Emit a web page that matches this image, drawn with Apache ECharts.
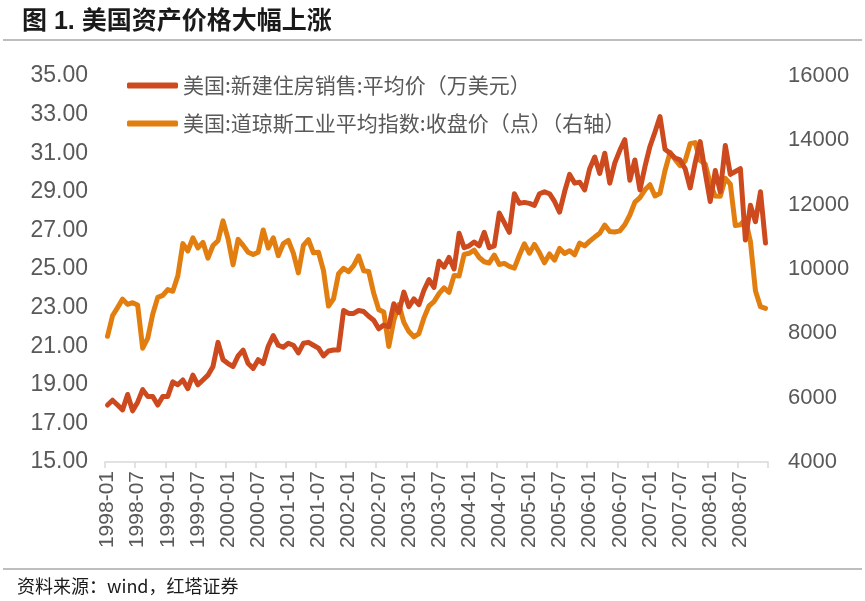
<!DOCTYPE html>
<html>
<head>
<meta charset="utf-8">
<script src="https://cdn.jsdelivr.net/npm/echarts@6/dist/echarts.min.js"></script>
<style>
html,body{margin:0;padding:0;background:#fff;}
#chart{width:865px;height:601px;}
</style>
</head>
<body>
<div id="chart"></div>
<script>
// categories: monthly 1998-01 .. 2008-12
const categories = [];
for (let y = 1998; y <= 2008; y++) {
  for (let m = 1; m <= 12; m++) categories.push(y + '-' + (m < 10 ? '0' + m : m));
}

const seriesNames = ['美国:新建住房销售:平均价（万美元）', '美国:道琼斯工业平均指数:收盘价（点）（右轴）'];

// 美国:新建住房销售:平均价 (万美元)
const homePrice = [
  17.95,18.2,17.95,17.7,18.5,17.65,18.1,18.75,18.4,18.4,17.95,18.4,
  18.4,19.15,19.0,19.25,18.8,19.5,19.0,19.25,19.5,19.95,21.2,20.3,
  20.1,19.95,20.5,20.8,20.1,19.85,20.3,20.1,21.0,21.55,21.05,20.95,
  21.15,21.05,20.65,21.15,21.2,21.05,20.9,20.5,20.75,20.8,20.8,22.85,
  22.7,22.7,22.85,22.8,22.55,22.35,21.9,22.1,22.0,23.2,22.75,23.8,
  23.05,23.45,23.15,23.9,24.45,24.05,25.4,25.1,25.6,25.0,26.85,26.1,
  26.2,26.4,26.2,26.9,26.1,26.2,27.9,27.4,26.9,28.9,28.4,28.45,
  28.4,28.3,28.9,29.0,28.9,28.5,27.95,29.0,29.9,29.45,29.5,29.1,
  30.2,30.8,29.95,31.0,29.45,30.5,31.15,31.7,29.6,30.65,29.1,30.3,
  31.35,32.1,32.9,31.2,31.0,30.75,30.65,30.2,29.2,30.5,31.6,30.0,
  28.5,30.1,29.0,31.4,29.9,30.05,30.2,26.5,28.3,27.45,29.0,26.35
];

// 美国:道琼斯工业平均指数:收盘价 (点)
const dowClose = [
  7907,8546,8800,9063,8900,8952,8883,7539,7843,8592,9117,9181,
  9359,9307,9786,10789,10560,10971,10655,10829,10337,10730,10878,11497,
  10941,10128,10922,10734,10522,10448,10522,11215,10651,10971,10414,10787,
  10887,10495,9879,10735,10912,10502,10523,9950,8848,9075,9852,10022,
  9920,10106,10404,9946,9925,9243,8737,8664,7592,8397,8896,8342,
  8054,7891,7992,8480,8850,8985,9234,9416,9275,9801,9782,10454,
  10488,10584,10358,10226,10188,10435,10140,10174,10080,10027,10428,10783,
  10490,10766,10504,10193,10467,10275,10641,10482,10569,10440,10806,10718,
  10865,10993,11109,11367,11168,11150,11186,11381,11679,12081,12222,12463,
  12622,12269,12354,13063,13628,13409,13212,13358,13896,13930,13372,13265,
  12650,12266,12263,12820,12638,11350,11378,11544,10851,9325,8829,8776
];

const leftTicks = {min: 15, max: 35, interval: 2};
const rightTicks = {min: 4000, max: 16000, interval: 2000};

const chart = echarts.init(document.getElementById('chart'), null, {renderer: 'canvas'});
const axisFont = "'Liberation Sans', Arial, sans-serif";
const cjkFont = "'Noto Sans CJK SC', sans-serif";

chart.setOption({
  animation: false,
  backgroundColor: '#ffffff',
  title: {
    text: '图 1. 美国资产价格大幅上涨',
    left: 17, top: 5,
    textStyle: {fontSize: 25, fontWeight: 'bold', color: '#1a1a1a', fontFamily: "'Liberation Sans', 'Noto Sans CJK SC', sans-serif"}
  },
  legend: {
    orient: 'vertical',
    left: 122, top: 70,
    itemWidth: 51, itemHeight: 6,
    itemGap: 17,
    icon: 'roundRect',
    textStyle: {fontSize: 21, color: '#595959', fontFamily: cjkFont},
    data: seriesNames
  },
  grid: {left: 105, right: 97, top: 76, bottom: 139, containLabel: false},
  xAxis: {
    type: 'category',
    data: categories,
    boundaryGap: true,
    axisLine: {show: true, lineStyle: {color: '#d9d9d9', width: 1.5}},
    axisTick: {show: true, interval: 5, length: 6, lineStyle: {color: '#d9d9d9', width: 1.5}},
    axisLabel: {
      interval: 5, rotate: 90, fontSize: 21, color: '#595959', fontFamily: axisFont, margin: 9
    },
    splitLine: {show: false}
  },
  yAxis: [
    {
      type: 'value', min: leftTicks.min, max: leftTicks.max, interval: leftTicks.interval,
      axisLine: {show: false}, axisTick: {show: false}, splitLine: {show: false},
      axisLabel: {fontSize: 23, color: '#595959', fontFamily: axisFont, margin: 17,
        formatter: v => v.toFixed(2)}
    },
    {
      type: 'value', min: rightTicks.min, max: rightTicks.max, interval: rightTicks.interval,
      position: 'right',
      axisLine: {show: false}, axisTick: {show: false}, splitLine: {show: false},
      axisLabel: {fontSize: 22, color: '#595959', fontFamily: axisFont, margin: 20,
        formatter: v => String(v)}
    }
  ],
  series: [
    {
      name: seriesNames[0], type: 'line', yAxisIndex: 0, data: homePrice,
      showSymbol: false, symbol: 'none',
      lineStyle: {color: '#cc4a1e', width: 5, cap: 'round', join: 'round'},
      itemStyle: {color: '#cc4a1e'}, z: 3
    },
    {
      name: seriesNames[1], type: 'line', yAxisIndex: 1, data: dowClose,
      showSymbol: false, symbol: 'none',
      lineStyle: {color: '#e27d10', width: 5, cap: 'round', join: 'round'},
      itemStyle: {color: '#e27d10'}, z: 2
    }
  ],
  graphic: [
    {type: 'line', shape: {x1: 3, y1: 40, x2: 862, y2: 40}, style: {stroke: '#7f7f7f', lineWidth: 1.2}},
    {type: 'line', shape: {x1: 3, y1: 569, x2: 862, y2: 569}, style: {stroke: '#7f7f7f', lineWidth: 1.2}},
    {type: 'text', left: 17, top: 577, style: {text: '资料来源：wind，红塔证券', fill: '#1a1a1a', font: "18px 'Noto Sans CJK SC', sans-serif"}}
  ]
});
</script>
</body>
</html>
